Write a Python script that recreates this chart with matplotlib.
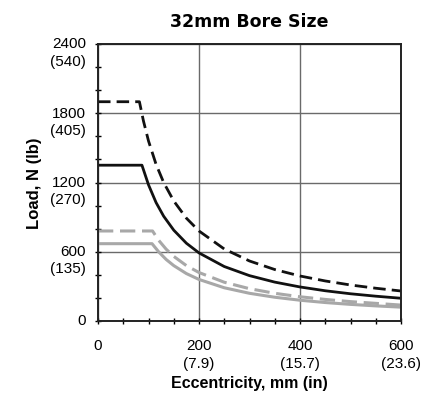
import matplotlib
matplotlib.use("Agg")
import matplotlib.pyplot as plt
import matplotlib.transforms as mtransforms
from matplotlib.ticker import MultipleLocator

plt.rcParams["font.family"] = ["Liberation Sans", "DejaVu Sans"]

# eccentricity (mm) vs load (N)
x_blk_dash = [0, 82, 90, 100, 115, 130, 150, 175, 200, 250, 300, 350, 400, 450, 500, 550, 600]
y_blk_dash = [1900, 1900, 1733, 1560, 1357, 1200, 1040, 891, 780, 624, 520, 446, 390, 347, 312, 284, 260]

x_blk_solid = [0, 87, 100, 115, 130, 150, 175, 200, 250, 300, 350, 400, 450, 500, 550, 600]
y_blk_solid = [1350, 1350, 1180, 1026, 908, 787, 674, 590, 472, 393, 337, 295, 262, 236, 215, 197]

x_gry_dash = [0, 108, 120, 135, 150, 175, 200, 250, 300, 350, 400, 450, 500, 550, 600]
y_gry_dash = [780, 780, 700, 622, 560, 480, 420, 336, 280, 240, 210, 187, 168, 153, 138]

x_gry_solid = [0, 107, 120, 135, 150, 175, 200, 250, 300, 350, 400, 450, 500, 550, 600]
y_gry_solid = [670, 670, 600, 533, 480, 411, 360, 288, 240, 206, 180, 160, 144, 131, 120]

x_ticks = [0, 200, 400, 600]
x_labels = ["0", "200\n(7.9)", "400\n(15.7)", "600\n(23.6)"]
y_ticks = [0, 600, 1200, 1800, 2400]
y_labels = ["0", "600\n(135)", "1200\n(270)", "1800\n(405)", "2400\n(540)"]

fig = plt.figure(figsize=(4.31, 4.02), dpi=100)
ax = fig.add_axes([0.2274, 0.199, 0.703, 0.689])

ax.plot(x_gry_solid, y_gry_solid, color="#a8a8a8", lw=2.2)
ax.plot(x_gry_dash, y_gry_dash, color="#a8a8a8", lw=2.2, dashes=(5, 2.2))
ax.plot(x_blk_solid, y_blk_solid, color="#111111", lw=2.0)
ax.plot(x_blk_dash, y_blk_dash, color="#111111", lw=2.0, dashes=(4.5, 2.2))

ax.set_xlim(0, 600)
ax.set_ylim(0, 2400)
ax.set_xticks(x_ticks)
ax.set_xticklabels(x_labels, fontsize=11, linespacing=1.3)
ax.set_yticks(y_ticks)
ax.set_yticklabels(y_labels, fontsize=11, linespacing=1.3, va="top", multialignment="right")
ax.xaxis.set_minor_locator(MultipleLocator(50))
ax.yaxis.set_minor_locator(MultipleLocator(200))
ax.tick_params(which="both", direction="inout", length=5, width=1, color="black")
ax.tick_params(axis="x", pad=10)
ax.tick_params(axis="y", pad=6)

# first line of each y label sits on its tick
shift = mtransforms.ScaledTranslation(0, 5.5 / 72, fig.dpi_scale_trans)
for lab in ax.get_yticklabels():
    lab.set_transform(lab.get_transform() + shift)

ax.grid(True, which="major", color="#6a6a6a", lw=1.0)
for s in ax.spines.values():
    s.set_color("#222222")
    s.set_linewidth(1.4)
ax.set_axisbelow(True)

ax.set_xlabel("Eccentricity, mm (in)", fontsize=11.5, fontweight="bold", labelpad=4)
ax.set_ylabel("Load, N (lb)", fontsize=12, fontweight="bold", labelpad=6)
ax.set_title("32mm Bore Size", fontsize=12.5, fontweight="bold",
             family=["DejaVu Sans"], pad=13)

fig.savefig("out.png", dpi=100)
